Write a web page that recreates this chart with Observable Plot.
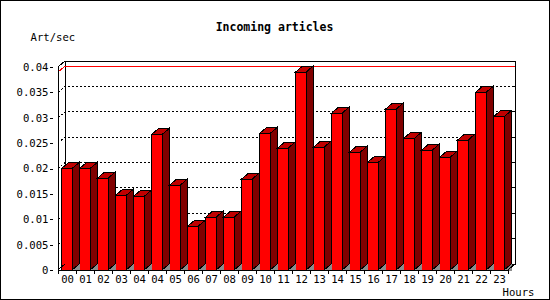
<!DOCTYPE html>
<html>
<head>
<meta charset="utf-8">
<script src="https://cdn.jsdelivr.net/npm/d3@7"></script>
<script src="https://cdn.jsdelivr.net/npm/@observablehq/plot@0.6"></script>
<style>
  html, body { margin: 0; padding: 0; background: white; }
  #chart svg polygon, #chart svg polyline, #chart svg rect, #chart svg line, #chart svg path { shape-rendering: crispEdges; }
</style>
</head>
<body>
<div id="chart"></div>
<script>
const title = "Incoming articles";
const yLabel = "Art/sec";
const xLabel = "Hours";
const hours = ["00","01","02","03","04","04","05","06","07","08","09","10","11","12","13","14","15","16","17","18","19","20","21","22","23"];
const rates = [0.0200,0.0200,0.0181,0.0147,0.0145,0.0267,0.0167,0.0086,0.0104,0.0104,0.0179,0.0269,0.0240,0.0390,0.0242,0.0309,0.0232,0.0212,0.0317,0.0259,0.0236,0.0222,0.0256,0.0350,0.0302];
const yTicks = [0,0.005,0.01,0.015,0.02,0.025,0.03,0.035,0.04];

const rows = rates.map((v, i) => ({i, v}));
const DX = 7, DY = -6;          // 3D depth offset
const IN_L = 3.5, IN_R = 3.9;   // bar insets inside a band
const maxRate = d3.max(rates);

function ns(tag) { return document.createElementNS("http://www.w3.org/2000/svg", tag); }
function poly(g, pts, fill, stroke, extra) {
  const p = ns(fill === "none" ? "polyline" : "polygon");
  p.setAttribute("points", pts.map(q => q.join(",")).join(" "));
  p.setAttribute("fill", fill);
  p.setAttribute("stroke", stroke);
  p.setAttribute("stroke-width", 1);
  if (extra) for (const k in extra) p.setAttribute(k, extra[k]);
  g.appendChild(p);
}
function frameBits(scales) {
  const x = scales.x, y = scales.y;
  const bw = x(1) - x(0);
  const X0 = x(0), XR = x(hours.length - 1) + bw;
  return {x, y, bw, X0, XR};
}

// back wall, gridlines and max line
const wall = (index, scales) => {
  const {x, y, X0, XR} = frameBits(scales);
  const g = ns("g");
  const top = y(0.04) + DY, bot = y(0) + DY;
  poly(g, [[X0 + DX, top], [XR + DX, top], [XR + DX, bot], [X0 + DX, bot]], "white", "black");
  yTicks.filter(t => t > 0 && t < 0.04).forEach(t => {
    const yy = y(t);
    poly(g, [[X0, yy], [X0 + DX, yy + DY], [XR + DX, yy + DY]], "none", "black", {"stroke-dasharray": "2,2"});
    poly(g, [[XR + DX - 2, yy + DY], [XR + DX, yy + DY]], "none", "black");
  });
  const ym = y(maxRate);
  poly(g, [[X0, ym], [X0 + DX, ym + DY], [XR + DX, ym + DY]], "none", "#ff0000");
  return g;
};

// side faces, top faces and floor shadows
const faces = (index, scales) => {
  const {x, y, bw} = frameBits(scales);
  const g = ns("g");
  const y0 = y(0);
  rates.forEach((v, i) => {
    const x0 = x(i) + IN_L, x1 = x(i) + bw - IN_R, yv = y(v);
    poly(g, [[x1, y0], [x1 + DX, y0 + DY], [x1 + DX, y0]], "#8c8c8c", "#8c8c8c");
    poly(g, [[x1, yv], [x1 + DX, yv + DY], [x1 + DX, y0 + DY], [x1, y0]], "#800000", "black");
    poly(g, [[x0, yv], [x0 + DX, yv + DY], [x1 + DX, yv + DY], [x1, yv]], "#c00000", "black");
  });
  return g;
};

// front axis lines, bottom ticks, border
const axes = (index, scales, values, dimensions) => {
  const {x, y, bw, X0, XR} = frameBits(scales);
  const g = ns("g");
  const y0 = y(0), yt = y(0.04);
  poly(g, [[X0 + DX, yt + DY], [X0, yt], [X0, y0], [XR, y0], [XR + DX, y0 + DY]], "none", "black");
  poly(g, [[X0, y0], [X0 + DX, y0 + DY]], "none", "black");
  for (let i = 0; i <= hours.length; i++) {
    const xx = X0 + i * bw;
    poly(g, [[xx, y0], [xx, y0 + 4]], "none", "black");
  }
  const r = ns("rect");
  r.setAttribute("x", 0.5); r.setAttribute("y", 0.5);
  r.setAttribute("width", dimensions.width - 1); r.setAttribute("height", dimensions.height - 1.5);
  r.setAttribute("fill", "none"); r.setAttribute("stroke", "black");
  g.appendChild(r);
  return g;
};

const chart = Plot.plot({
  width: 550,
  height: 300,
  marginLeft: 53,
  marginRight: 37,
  marginTop: 67,
  marginBottom: 30,
  style: {fontFamily: "'DejaVu Sans Mono', monospace", fontSize: "10.6px", background: "white", color: "black", overflow: "visible"},
  x: {type: "band", domain: d3.range(hours.length), padding: 0, tickSize: 0, tickPadding: 5, tickFormat: i => hours[i], label: null},
  y: {domain: [0, 0.04], ticks: yTicks, tickSize: 3, tickPadding: 2, tickFormat: d => String(+d.toFixed(3)), label: null},
  marks: [
    wall,
    Plot.barY(rows, {x: "i", y: "v", fill: "#ff0000", stroke: "black", strokeWidth: 1, insetLeft: IN_L, insetRight: IN_R}),
    faces,
    axes,
    Plot.text([title], {frameAnchor: "top", dx: -9, dy: -40, lineAnchor: "middle", fontWeight: "bold", fontSize: 11.5}),
    Plot.text([yLabel], {frameAnchor: "top-left", dx: -23, dy: -30, lineAnchor: "middle", textAnchor: "start"}),
    Plot.text([xLabel], {frameAnchor: "bottom-right", dx: 21, dy: 22, lineAnchor: "middle", textAnchor: "end"})
  ]
});
document.getElementById("chart").appendChild(chart);
</script>
</body>
</html>
